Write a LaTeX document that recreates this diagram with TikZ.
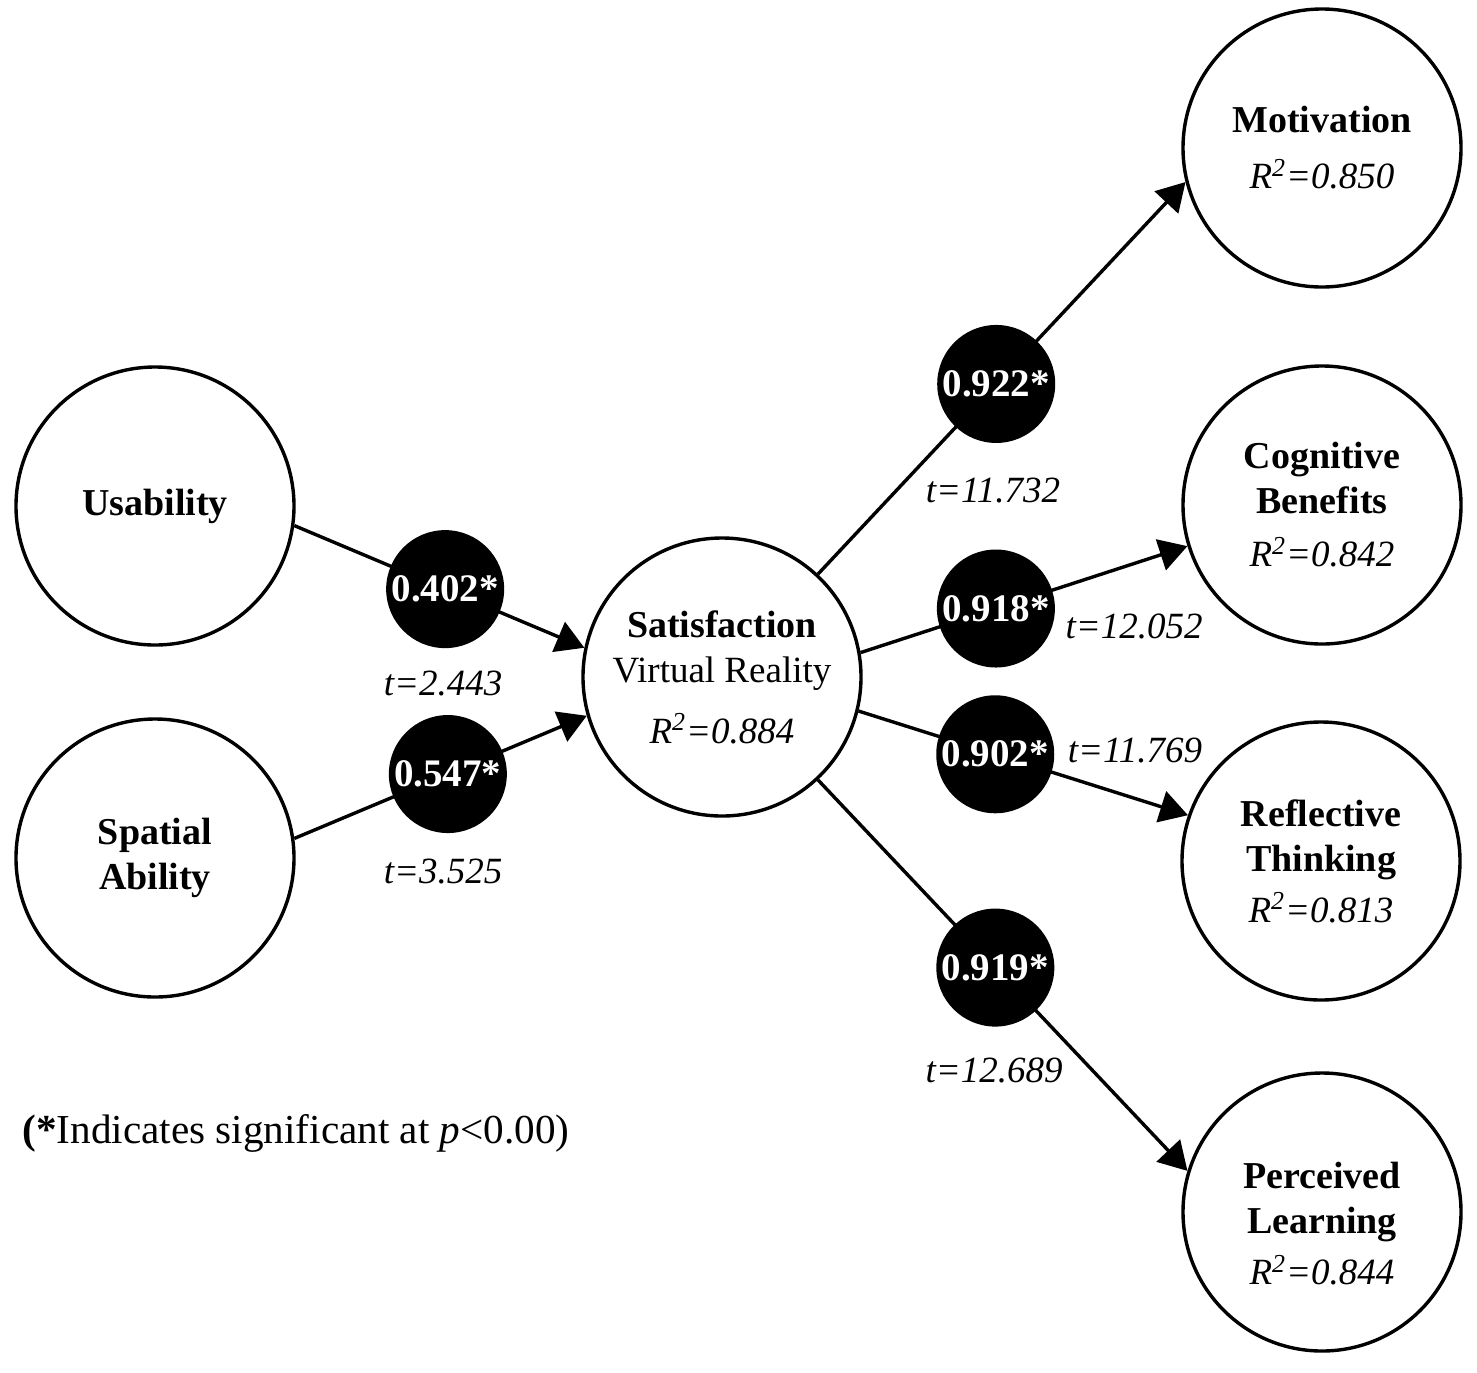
\documentclass[tikz,border=0pt]{standalone}
\usepackage{fontspec}
\setmainfont{Liberation Serif}
\usetikzlibrary{arrows.meta}
\begin{document}
\begin{tikzpicture}[x=0.5pt,y=-0.5pt,
  construct/.style={circle, draw, line width=1.7pt, minimum size=139pt, inner sep=0pt, align=center, font=\fontsize{19}{22.5}\selectfont},
  coef/.style={circle, fill=black, minimum size=59pt, inner sep=0pt, text=white, font=\fontsize{19.5}{22}\selectfont\bfseries},
  tlab/.style={anchor=base, inner sep=0pt, font=\fontsize{18.5}{22}\selectfont\itshape},
  link/.style={line width=1.7pt, -{Triangle[length=14pt,width=16pt]}},
  rsq/.style={font=\fontsize{18}{22}\selectfont\itshape}
]
\useasboundingbox (0,0) rectangle (1477,1372);
% constructs
\node[construct] (us) at (155,506) {\textbf{Usability}};
\node[construct] (sp) at (155,858) {\textbf{Spatial}\\\textbf{Ability}};
\node[construct] (sat) at (722,677) {\textbf{Satisfaction}\\{\fontsize{18.5}{22.5}\selectfont Virtual Reality}\\[8pt]{\fontsize{18.5}{22}\selectfont\itshape R\textsuperscript{2}=0.884}};
\node[construct] (mot) at (1322,148) {\textbf{Motivation}\\[5.5pt]{\fontsize{18.5}{22}\selectfont\itshape R\textsuperscript{2}=0.850}};
\node[construct] (cog) at (1322,505) {\textbf{Cognitive}\\\textbf{Benefits}\\[4pt]{\fontsize{18.5}{22}\selectfont\itshape R\textsuperscript{2}=0.842}};
\node[construct] (ref) at (1321,861) {\textbf{Reflective}\\\textbf{Thinking}\\[3pt]{\fontsize{18.5}{22}\selectfont\itshape R\textsuperscript{2}=0.813}};
\node[construct] (per) at (1322,1212) {\rule{0pt}{25pt}\textbf{Perceived}\\\textbf{Learning}\\[3pt]{\fontsize{18.5}{22}\selectfont\itshape R\textsuperscript{2}=0.844}};
% paths with coefficients
\draw[link] (us.-8.9) -- node[coef, pos=0.52] (c1) {0.402*} (sat.168.2);
\draw[link] (sp.8.5) -- node[coef, pos=0.525] (c2) {0.547*} (sat.-164.5);
\draw[link] (sat.47.3) -- node[coef, pos=0.485] (c3) {0.922*} (mot.194.1);
\draw[link] (sat.10.1) -- node[coef, pos=0.414] (c4) {0.918*} (cog.197.2);
\draw[link] (sat.-14.4) -- node[coef, pos=0.415] (c5) {0.902*} (ref.161.7);
\draw[link] (sat.-47.8) -- node[coef, pos=0.48] (c6) {0.919*} (per.163.7);
% t values
\node[tlab] (t1) at (443,695) {t=2.443};
\node[tlab] (t2) at (443,883) {t=3.525};
\node[tlab] (t3) at (993,502) {t=11.732};
\node[tlab] (t4) at (1134,638) {t=12.052};
\node[tlab] (t5) at (1135,762) {t=11.769};
\node[tlab] (t6) at (994,1082) {t=12.689};
% note
\node[anchor=base west, inner sep=0pt, font=\fontsize{20.6}{24}\selectfont] (note) at (22,1143) {\textbf{(*}Indicates significant at \textit{p}<0.00)};
\end{tikzpicture}
\end{document}
